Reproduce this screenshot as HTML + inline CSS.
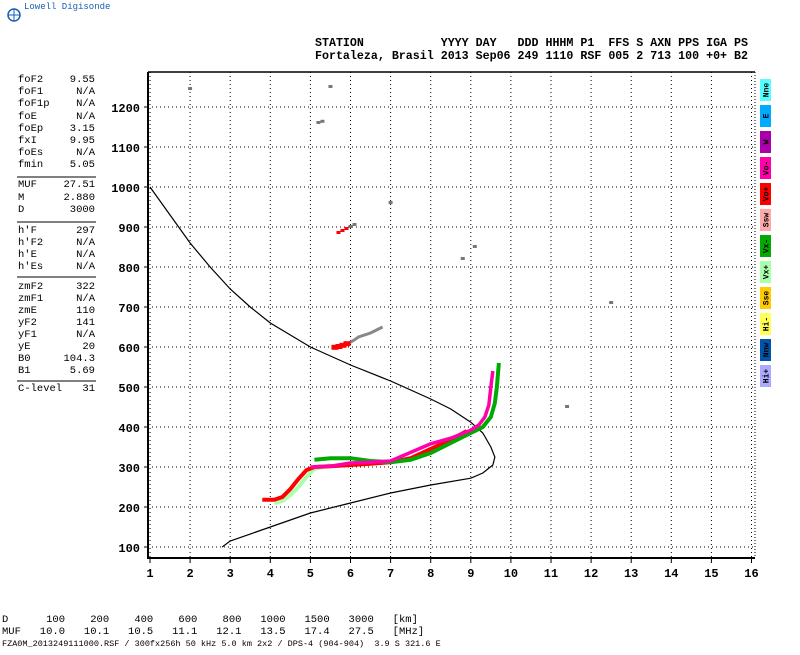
<!DOCTYPE html>
<html><head><meta charset="utf-8"><style>
body{margin:0;background:#fff;width:800px;height:650px;overflow:hidden;font-family:"Liberation Mono",monospace}
svg text{font-family:"Liberation Mono",monospace;white-space:pre}
</style></head><body>
<svg id="chart" width="800" height="650" xmlns="http://www.w3.org/2000/svg">
<g>
<circle cx="14" cy="15" r="6" fill="none" stroke="#1a5fb4" stroke-width="1.5"/>
<line x1="8" y1="15" x2="20" y2="15" stroke="#1a5fb4"/><line x1="14" y1="9" x2="14" y2="21" stroke="#1a5fb4"/>
<text x="24" y="9" font-size="9" fill="#1a5fb4">Lowell Digisonde</text></g>
<text x="315" y="46" font-size="12" font-weight="bold" textLength="433" lengthAdjust="spacingAndGlyphs" xml:space="preserve">STATION           YYYY DAY   DDD HHHM P1  FFS S AXN PPS IGA PS</text>
<text x="315" y="59" font-size="12" font-weight="bold" textLength="433" lengthAdjust="spacingAndGlyphs" xml:space="preserve">Fortaleza, Brasil 2013 Sep06 249 1110 RSF 005 2 713 100 +0+ B2</text>
<g id="panel" font-size="10.5"></g>
<g id="plot"></g>
<g id="legend" font-size="8" font-weight="bold"></g>
<text x="2" y="622" font-size="10.5" xml:space="preserve">D      100    200    400    600    800   1000   1500   3000   [km]</text>
<text x="2" y="634" font-size="10.5" xml:space="preserve">MUF   10.0   10.1   10.5   11.1   12.1   13.5   17.4   27.5   [MHz]</text>
<text x="2" y="646" font-size="8.5" xml:space="preserve">FZA0M_2013249111000.RSF / 300fx256h 50 kHz 5.0 km 2x2 / DPS-4 (904-904)  3.9 S 321.6 E</text>
</svg>
<script>
const paramNames=["foF2","foF1","foF1p","foE","foEp","fxI","foEs","fmin","MUF","M","D","h'F","h'F2","h'E","h'Es","zmF2","zmF1","zmE","yF2","yF1","yE","B0","B1","C-level"];
const paramVals=["9.55","N/A","N/A","N/A","3.15","9.95","N/A","5.05","27.51","2.880","3000","297","N/A","N/A","N/A","322","N/A","110","141","N/A","20","104.3","5.69","31"];
const paramY=[82,94,106,119,131,143,155,167,187,200,212,233,245,257,269,289,301,313,325,337,349,361,373,391];
const sepY=[177,222,277,381];
const xTicks=[1,2,3,4,5,6,7,8,9,10,11,12,13,14,15,16];
const yTicks=[100,200,300,400,500,600,700,800,900,1000,1100,1200];
const profF=[1,1.5,2,2.5,3,3.5,4,5,6,7,8,8.5,9,9.3,9.5,9.6,9.55,9.3,9,8,7,6,5,4,3,2.8];
const profH=[1000,930,860,800,745,700,660,600,555,515,470,445,412,385,350,325,305,285,272,255,235,210,185,150,115,100];
const oF=[3.8,4.1,4.3,4.5,4.7,4.9,5.1,5.5,6,6.5,7,7.5,8,8.5,8.9];
const oH=[218,218,225,245,270,292,300,302,305,308,312,322,345,368,390];
const mF=[5.0,5.5,6,6.5,7,8,8.5,9,9.2,9.35,9.45,9.5,9.55];
const mH=[300,302,310,312,315,358,372,392,405,425,455,500,540];
const xF=[5.1,5.5,6,6.5,7,7.5,8,8.5,9,9.3,9.5,9.6,9.65,9.7];
const xH=[318,322,322,315,312,318,335,360,385,400,425,460,500,560];
const lgF=[4.1,4.3,4.5,4.7,4.9,5.1,5.5];
const lgH=[210,215,230,250,275,295,305];
const legendLabels=["Nne","E","W","Vo-","Vo+","Ssw","Vx-","Vx+","Sse","Hi-","Nnw","Hi+"];
const legendColors=["#55ffff","#00aaff","#aa00aa","#ff00aa","#ff0000","#ffaaaa","#00aa00","#aaffaa","#ffcc00","#ffff55","#0055aa","#aaaaff"];
const echoF=[5.7,5.8,5.9,6.0,6.1,5.2,5.3,5.5,8.8,9.1,7.0,2.0,12.5,11.4];
const echoH=[885,890,895,900,905,1160,1163,1250,820,850,960,1245,710,450];
const hop2F=[5.6,5.7,5.8,5.9,6.0,6.1,6.2,6.5,6.8];
const hop2H=[598,600,603,607,612,618,625,635,650];

const NS="http://www.w3.org/2000/svg";
const X=f=>150+(f-1)*40.1, Y=h=>547-(h-100)*0.4;
function mk(tag,at,parent){const e=document.createElementNS(NS,tag);for(const k in at)e.setAttribute(k,at[k]);parent.appendChild(e);return e;}
const panel=document.getElementById('panel');
paramNames.forEach((n,i)=>{
 const t=mk('text',{x:18,y:paramY[i]},panel);t.textContent=n;
 
 
 const v=mk('text',{x:95,y:paramY[i],'text-anchor':'end'},panel);v.textContent=paramVals[i];
 
 
});
sepY.forEach(y=>{const l=mk('line',{x1:17,x2:96,y1:y,y2:y,stroke:'#000','stroke-width':1},panel);
 
 });
const plot=document.getElementById('plot');


xTicks.forEach(f=>{
 const g=mk('line',{x1:X(f),x2:X(f),y1:72,y2:558,stroke:'#000','stroke-dasharray':'1 3'},plot);
 
 
 mk('line',{x1:X(f),x2:X(f),y1:558,y2:563,stroke:'#000'},plot);
 const t=mk('text',{x:X(f),y:577,'text-anchor':'middle','font-size':12,'font-weight':'bold'},plot);t.textContent=f;
 
 
});
yTicks.forEach(h=>{
 const g=mk('line',{x1:148,x2:755,y1:Y(h),y2:Y(h),stroke:'#000','stroke-dasharray':'1 3'},plot);
 
 
 mk('line',{x1:144,x2:148,y1:Y(h),y2:Y(h),stroke:'#000'},plot);
 const t=mk('text',{x:140,y:Y(h)+5,'text-anchor':'end','font-size':12,'font-weight':'bold'},plot);t.textContent=h;
 
 
});
const frame=mk('polyline',{points:'148,72 148,558 755,558',fill:'none',stroke:'#000','stroke-width':2},plot);


mk('line',{x1:148,x2:755,y1:72,y2:72,stroke:'#000','stroke-width':1.5},plot);
mk('line',{x1:755,x2:755,y1:72,y2:558,stroke:'#000','stroke-dasharray':'1 2'},plot);
function line(F,H,color,w,name){const p=mk('polyline',{points:F.map((f,i)=>X(f)+','+Y(H[i])).join(' '),fill:'none',stroke:color,'stroke-width':w},plot);
 
 }
line(profF,profH,'#000',1.2,'density-profile');
line(lgF,lgH,'#aaffaa',4,'x-trace-light');
line(oF,oH,'#ff0000',4,'o-trace');
line(xF,xH,'#00aa00',4,'x-trace');
line(mF,mH,'#ff00aa',3.5,'o-trace-magenta');
line(hop2F,hop2H,'#888',3,'second-hop-echo');
hop2F.slice(0,4).forEach((f,i)=>{const r=mk('rect',{x:X(f)-3,y:Y(hop2H[i])-3,width:7,height:5,fill:'#ff0000'},plot);
 
 });
echoF.forEach((f,i)=>{const r=mk('rect',{x:X(f)-2,y:Y(echoH[i])-2,width:4,height:3,fill:i<3?'#ff0000':'#777'},plot);
 
 });
const lg=document.getElementById('legend');
legendLabels.forEach((l,i)=>{
 const y=79+i*26;
 const r=mk('rect',{x:760,y:y,width:11,height:22,fill:legendColors[i]},lg);
 
 
 const t=mk('text',{x:0,y:0,transform:`translate(768.5,${y+11}) rotate(-90)`,'text-anchor':'middle'},lg);t.textContent=l;
 
 
});
</script>
</body></html>
